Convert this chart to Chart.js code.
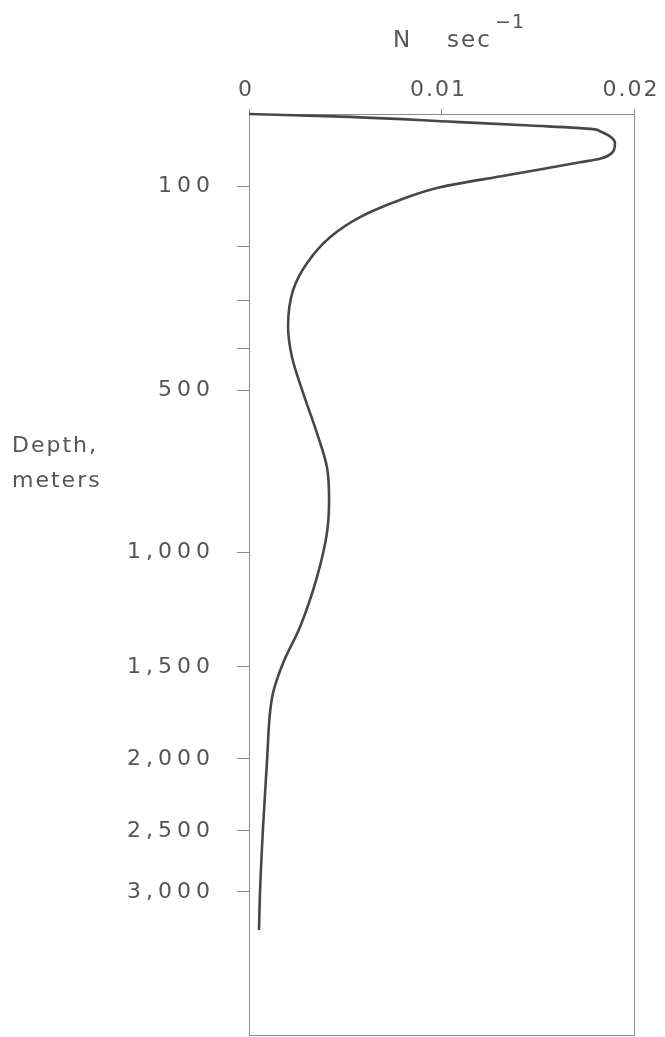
<!DOCTYPE html>
<html>
<head>
<meta charset="utf-8">
<script src="https://cdn.jsdelivr.net/npm/chart.js@4.4.1/dist/chart.umd.min.js"></script>
<style>
html, body { margin: 0; padding: 0; background: #fff; overflow: hidden; }
canvas { display: block; }
</style>
</head>
<body>
<canvas id="chart" width="665" height="1037"></canvas>
<script>
// Data: N (sec^-1) against depth (m)
const depths = [0, 4, 11, 16, 21, 24, 31, 40, 50, 58, 62, 67, 85, 102, 123, 151, 184, 230, 280, 355, 421, 509, 633, 738, 839, 941, 1109, 1326, 1483, 1641, 1750, 2007, 2472, 3010, 3399];
const nValues = [0, 0.00525, 0.0107, 0.0146, 0.01787, 0.01823, 0.01875, 0.01901, 0.01896, 0.01865, 0.01823, 0.0172, 0.0134, 0.00992, 0.00784, 0.00577, 0.00421, 0.00301, 0.00229, 0.00203, 0.00223, 0.00281, 0.00353, 0.00405, 0.00416, 0.00405, 0.00353, 0.00265, 0.00177, 0.00125, 0.00109, 0.00094, 0.00073, 0.00057, 0.00052];

// Ticks
const depthTicks = [100, 200, 300, 400, 500, 1000, 1500, 2000, 2500, 3000];
const depthLabels = ['100', '', '', '', '500', '1,000', '1,500', '2,000', '2,500', '3,000'];
const nTicks = [0, 0.01, 0.02];
const nLabels = ['0', '0.01', '0.02'];

// Stretched depth axis: depth -> fraction of axis height
const stretchDepth = [0, 100, 200, 300, 400, 500, 1000, 1500, 2000, 2500, 3000, 4500];
const stretchFrac = [0, 0.0782, 0.1444, 0.2030, 0.2541, 0.2997, 0.4756, 0.6004, 0.7003, 0.7785, 0.8447, 1];

const interp = (v, xs, ys) => {
    let i = 1;
    while (i < xs.length - 1 && v > xs[i]) i++;
    let t = (v - xs[i - 1]) / (xs[i] - xs[i - 1]);
    return ys[i - 1] + t * (ys[i] - ys[i - 1]);
}

class StretchScale extends Chart.LinearScale {
    static id = 'stretch';
    static defaults = Chart.LinearScale.defaults;
    getPixelForValue(value) {
        if (value === null || value === undefined || isNaN(value)) return NaN;
        return this.getPixelForDecimal(interp(value, stretchDepth, stretchFrac));
    }
    getValueForPixel(pixel) {
        return interp(this.getDecimalForPixel(pixel), stretchFrac, stretchDepth);
    }
}
Chart.register(StretchScale);

const FONT = 'DejaVu Sans';
const TEXT = '#555';
const LINE = '#8c8c8c';

// Plugins
const spacing = {
    id: 'spacing',
    beforeDraw: (chart) => { chart.ctx.letterSpacing = '5px'; },
    afterDatasetsDraw: (chart) => { chart.ctx.letterSpacing = '2px'; }
};

const frame = {
    id: 'frame',
    beforeDatasetsDraw: (chart) => {
        let {ctx, chartArea: a} = chart;
        ctx.save();
        ctx.strokeStyle = LINE;
        ctx.lineWidth = 1;
        ctx.strokeRect(Math.round(a.left) + 0.5, Math.round(a.top) + 0.5, Math.round(a.right - a.left), Math.round(a.bottom - a.top));
        ctx.restore();
    }
};

const labels = {
    id: 'labels',
    afterDraw: (chart) => {
        let ctx = chart.ctx;
        ctx.save();
        ctx.fillStyle = TEXT;
        ctx.textAlign = 'left';
        ctx.textBaseline = 'alphabetic';
        ctx.letterSpacing = '2px';
        ctx.font = `22px "${FONT}"`;
        ctx.fillText('Depth,', 12, 452);
        ctx.fillText('meters', 12, 487);
        ctx.font = `23px "${FONT}"`;
        ctx.fillText('N', 393, 47);
        ctx.fillText('sec', 447, 47);
        ctx.letterSpacing = '1px';
        ctx.font = `19px "${FONT}"`;
        ctx.fillText('\u22121', 495, 28);
        ctx.restore();
        ctx.letterSpacing = '0px';
    }
};

new Chart(document.querySelector('#chart'), {
    type: 'line',
    data: {
        datasets: [{
            data: depths.map((d, i) => ({x: nValues[i], y: d})),
            borderColor: '#474747',
            borderWidth: 2.6,
            pointRadius: 0,
            fill: false,
            cubicInterpolationMode: 'monotone',
            indexAxis: 'y',
            clip: false
        }]
    },
    options: {
        indexAxis: 'y',
        responsive: false,
        animation: false,
        devicePixelRatio: 1,
        layout: {padding: {left: 0, right: 31, top: 0, bottom: 2}},
        plugins: {legend: {display: false}, tooltip: {enabled: false}},
        scales: {
            x: {
                type: 'linear',
                position: 'top',
                min: 0,
                max: 0.02,
                afterBuildTicks: (s) => { s.ticks = nTicks.map(v => ({value: v})); },
                afterFit: (s) => { s.height = 114; s.paddingLeft = 0; s.paddingRight = 0; },
                ticks: {
                    autoSkip: false,
                    maxRotation: 0,
                    padding: 6,
                    labelOffset: -3,
                    z: 1,
                    color: TEXT,
                    font: {family: FONT, size: 22},
                    callback: (v, i) => nLabels[i]
                },
                grid: {drawOnChartArea: false, tickLength: 5, color: LINE},
                border: {display: false}
            },
            y: {
                type: 'stretch',
                position: 'left',
                min: 0,
                max: 4500,
                reverse: true,
                afterBuildTicks: (s) => { s.ticks = depthTicks.map(v => ({value: v})); },
                afterFit: (s) => { s.width = 249; s.paddingTop = 0; s.paddingBottom = 0; },
                ticks: {
                    autoSkip: false,
                    padding: 22,
                    color: TEXT,
                    font: {family: FONT, size: 22},
                    callback: (v, i) => depthLabels[i]
                },
                grid: {drawOnChartArea: false, tickLength: 12, color: LINE},
                border: {display: false}
            }
        }
    },
    plugins: [spacing, frame, labels]
});
</script>
</body>
</html>
